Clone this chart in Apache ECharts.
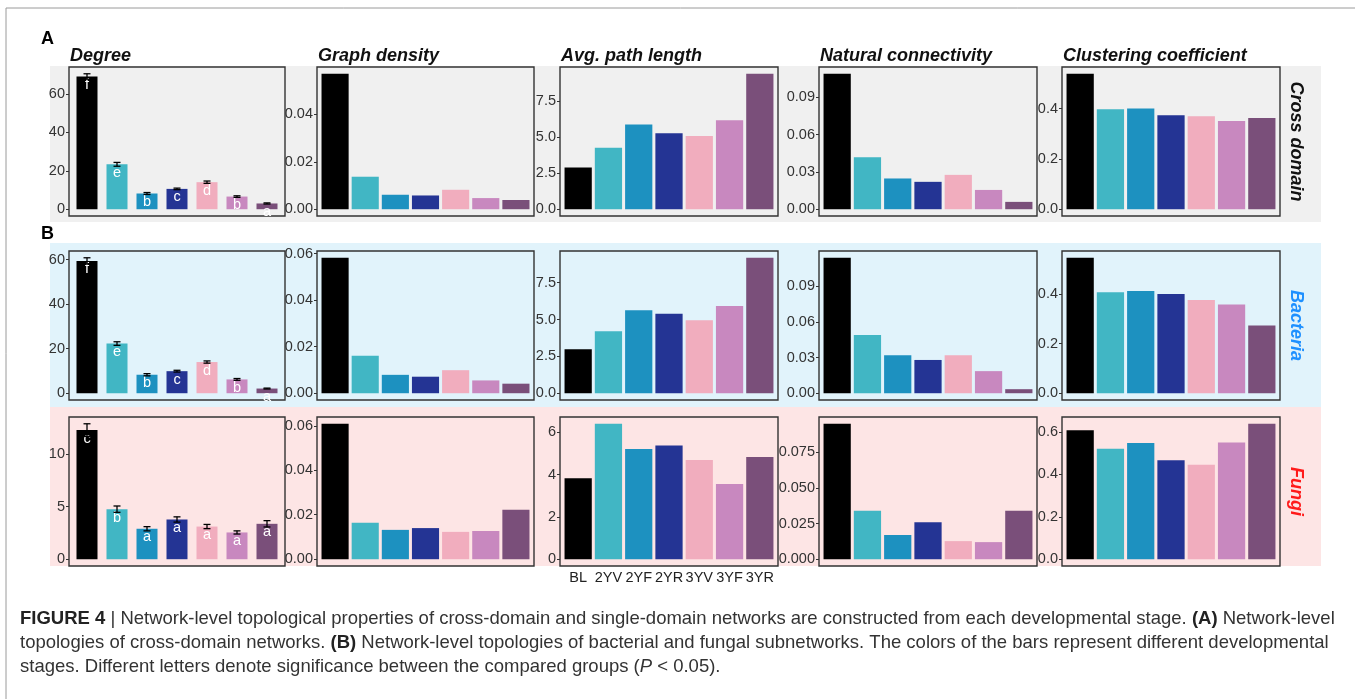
<!DOCTYPE html>
<html><head><meta charset="utf-8">
<script src="https://cdn.jsdelivr.net/npm/echarts@6/dist/echarts.min.js"></script>
<style>html,body{margin:0;padding:0;background:#fff}#c{width:1355px;height:699px}</style>
</head><body><div id="c"></div><script>
// ---------- data ----------
const stages = ['BL','2YV','2YF','2YR','3YV','3YF','3YR'];
const metrics = ['Degree','Graph density','Avg. path length','Natural connectivity','Clustering coefficient'];
const domains = ['Cross domain','Bacteria','Fungi'];

// Cross domain
const crossDegree = [69.2, 23.4, 8.2, 10.6, 14.1, 6.6, 3.0];
const crossDegreeErr = [1.4, 1.0, 0.5, 0.4, 0.6, 0.4, 0.3];
const crossDegreeLetters = ['f','e','b','c','d','b','a'];
const crossDensity = [0.0571, 0.0137, 0.0061, 0.0058, 0.0082, 0.0047, 0.0039];
const crossPath = [2.90, 4.26, 5.88, 5.28, 5.09, 6.18, 9.40];
const crossConn = [0.1088, 0.0418, 0.0247, 0.0220, 0.0276, 0.0155, 0.0059];
const crossClust = [0.538, 0.397, 0.400, 0.373, 0.369, 0.350, 0.362];

// Bacteria
const bactDegree = [59.4, 22.3, 8.3, 9.9, 14.0, 6.2, 2.1];
const bactDegreeErr = [1.4, 0.8, 0.5, 0.4, 0.5, 0.4, 0.2];
const bactDegreeLetters = ['f','e','b','c','d','b','a'];
const bactDensity = [0.0582, 0.0161, 0.0079, 0.0071, 0.0099, 0.0055, 0.0041];
const bactPath = [2.98, 4.20, 5.63, 5.40, 4.95, 5.92, 9.19];
const bactConn = [0.114, 0.049, 0.032, 0.028, 0.032, 0.0186, 0.0034];
const bactClust = [0.547, 0.408, 0.413, 0.401, 0.376, 0.358, 0.274];

// Fungi
const fungDegree = [12.25, 4.75, 2.89, 3.77, 3.10, 2.54, 3.36];
const fungDegreeErr = [0.6, 0.3, 0.2, 0.25, 0.2, 0.15, 0.3];
const fungDegreeLetters = ['c','b','a','a','a','a','a'];
const fungDensity = [0.0609, 0.0164, 0.0132, 0.0140, 0.0123, 0.0127, 0.0223];
const fungPath = [3.83, 6.41, 5.22, 5.38, 4.69, 3.56, 4.84];
const fungConn = [0.095, 0.034, 0.017, 0.026, 0.0127, 0.012, 0.034];
const fungClust = [0.607, 0.520, 0.547, 0.466, 0.445, 0.550, 0.638];

// tick values and labels
const crossTicks = [[0,20,40,60],[0,0.02,0.04],[0,2.5,5,7.5],[0,0.03,0.06,0.09],[0,0.2,0.4]];
const crossTickLabels = [['0','20','40','60'],['0.00','0.02','0.04'],['0.0','2.5','5.0','7.5'],['0.00','0.03','0.06','0.09'],['0.0','0.2','0.4']];
const bactTicks = [[0,20,40,60],[0,0.02,0.04,0.06],[0,2.5,5,7.5],[0,0.03,0.06,0.09,0.12],[0,0.2,0.4]];
const bactTickLabels = [['0','20','40','60'],['0.00','0.02','0.04','0.06'],['0.0','2.5','5.0','7.5'],['0.00','0.03','0.06','0.09','0.12'],['0.0','0.2','0.4']];
const fungTicks = [[0,5,10],[0,0.02,0.04,0.06],[0,2,4,6],[0,0.025,0.05,0.075],[0,0.2,0.4,0.6]];
const fungTickLabels = [['0','5','10'],['0.00','0.02','0.04','0.06'],['0','2','4','6'],['0.000','0.025','0.050','0.075'],['0.0','0.2','0.4','0.6']];

const captionLines = [
  '{b|FIGURE 4} | Network-level topological properties of cross-domain and single-domain networks are constructed from each developmental stage. {b|(A)} Network-level',
  'topologies of cross-domain networks. {b|(B)} Network-level topologies of bacterial and fungal subnetworks. The colors of the bars represent different developmental',
  'stages. Different letters denote significance between the compared groups ({i|P} < 0.05).'
];

// ---------- style / layout ----------
const stageColors = ['#000000','#41B6C4','#1D91C0','#243494','#F1ADBE','#C888BF','#7A4F7A'];
const colLeft = [69, 317, 560, 819, 1062];
const colWidth = [216, 217, 218, 218, 218];
const rowTop = [67, 251, 417];
const rowH = 149;
const stripBg = ['#F0F0F0','#E1F3FB','#FDE5E5'];
const stripTop = [66, 243, 407];
const stripBottom = [222, 407, 566];
const stripLabelColor = ['#111111','#1E90FF','#FF1A1A'];
const FONT = 'Liberation Sans, Arial, sans-serif';
const CAP = 18.5;

const rows = [
  {vals:[crossDegree,crossDensity,crossPath,crossConn,crossClust], err:crossDegreeErr, letters:crossDegreeLetters, ticks:crossTicks, tl:crossTickLabels},
  {vals:[bactDegree,bactDensity,bactPath,bactConn,bactClust], err:bactDegreeErr, letters:bactDegreeLetters, ticks:bactTicks, tl:bactTickLabels},
  {vals:[fungDegree,fungDensity,fungPath,fungConn,fungClust], err:fungDegreeErr, letters:fungDegreeLetters, ticks:fungTicks, tl:fungTickLabels}
];

const grid = [], xAxis = [], yAxis = [], series = [], graphic = [];

rows.forEach((row, r) => {
  graphic.push({type:'rect', z:-100, shape:{x:50, y:stripTop[r], width:1271, height:stripBottom[r]-stripTop[r]}, style:{fill:stripBg[r]}});
  graphic.push({type:'text', z:10, x:1296, y:rowTop[r]+rowH/2, rotation:-Math.PI/2,
    style:{text:domains[r], fill:stripLabelColor[r], font:'italic bold 18px '+FONT, textAlign:'center', textVerticalAlign:'middle'}});
  row.vals.forEach((vals, c) => {
    const g = grid.length;
    const isDeg = c === 0;
    const top = isDeg ? Math.max(...vals.map((v,i)=>v+row.err[i])) : Math.max(...vals);
    const ticks = row.ticks[c], tl = row.tl[c];
    grid.push({left:colLeft[c], top:rowTop[r], width:colWidth[c], height:rowH, show:true,
      borderColor:'#333', borderWidth:1.4, backgroundColor:'transparent', outerBoundsMode:'none', containLabel:false});
    const showX = (r === 2 && c === 2);
    xAxis.push({gridIndex:g, type:'value', min:0.4, max:7.6, splitLine:{show:false},
      axisLine:{show:false}, axisTick:{show:false},
      axisLabel: showX ? {show:true, customValues:[1,2,3,4,5,6,7], formatter:v=>stages[Math.round(v)-1],
        fontSize:14.5, color:'#222', margin:4, fontFamily:FONT} : {show:false}});
    yAxis.push({gridIndex:g, type:'value', min:-0.05*top, max:1.05*top, splitLine:{show:false},
      axisLine:{show:false},
      axisTick:{show:true, length:3, customValues:ticks, lineStyle:{color:'#333', width:1}},
      axisLabel:{show:true, customValues:ticks, margin:4, fontSize:14.5, color:'#333', fontFamily:FONT,
        formatter:v=>{ let k=0; ticks.forEach((t,i)=>{ if (Math.abs(t-v) < Math.abs(ticks[k]-v)) k=i; }); return tl[k]; }}});
    const bw = (isDeg ? 0.7 : 0.9) * colWidth[c] / 7.2;
    series.push({type:'bar', xAxisIndex:g, yAxisIndex:g, barWidth:bw, animation:false, silent:true,
      data: vals.map((v,i)=>({value:[i+1, v], itemStyle:{color:stageColors[i]}})),
      label: isDeg ? {show:true, position:'insideTop', distance:1, formatter:p=>row.letters[p.dataIndex],
        color:'#fff', fontSize:14.5, fontFamily:FONT} : {show:false},
      z:2});
    if (isDeg) {
      series.push({type:'custom', xAxisIndex:g, yAxisIndex:g, animation:false, silent:true, z:3,
        data: vals.map((v,i)=>[i+1, v-row.err[i], v+row.err[i]]),
        encode:{x:0, y:[1,2]},
        renderItem:(params, api)=>{
          const x = api.value(0), lo = api.value(1), hi = api.value(2);
          const p1 = api.coord([x, lo]), p2 = api.coord([x, hi]);
          const hw = 3.5, st = {stroke:'#000', lineWidth:1.3};
          return {type:'group', children:[
            {type:'line', shape:{x1:p1[0], y1:p1[1], x2:p2[0], y2:p2[1]}, style:st},
            {type:'line', shape:{x1:p1[0]-hw, y1:p1[1], x2:p1[0]+hw, y2:p1[1]}, style:st},
            {type:'line', shape:{x1:p2[0]-hw, y1:p2[1], x2:p2[0]+hw, y2:p2[1]}, style:st}
          ]};
        }});
    }
  });
});

metrics.forEach((m, c) => {
  graphic.push({type:'text', x:colLeft[c]+1, y:56, style:{text:m, fill:'#111', font:'italic bold 18px '+FONT, textAlign:'left', textVerticalAlign:'middle'}});
});
graphic.push({type:'text', x:41, y:39, style:{text:'A', fill:'#000', font:'bold 18px '+FONT, textAlign:'left', textVerticalAlign:'middle'}});
graphic.push({type:'text', x:41, y:234, style:{text:'B', fill:'#000', font:'bold 18px '+FONT, textAlign:'left', textVerticalAlign:'middle'}});
graphic.push({type:'line', shape:{x1:6, y1:8, x2:1355, y2:8}, style:{stroke:'#9a9a9a', lineWidth:1}});
graphic.push({type:'line', shape:{x1:6, y1:8, x2:6, y2:699}, style:{stroke:'#9a9a9a', lineWidth:1}});
const capY = [619, 643, 667];
captionLines.forEach((t, i) => {
  graphic.push({type:'text', x:20, y:capY[i], style:{text:t, fill:'#333', font:CAP+'px '+FONT,
    textAlign:'left', textVerticalAlign:'middle',
    rich:{b:{fontWeight:'bold', fontSize:CAP, fontFamily:FONT, fill:'#222'}, i:{fontStyle:'italic', fontSize:CAP, fontFamily:FONT, fill:'#333'}}}});
});

const chart = echarts.init(document.getElementById('c'), null, {renderer:'canvas'});
chart.setOption({animation:false, backgroundColor:'#fff', grid, xAxis, yAxis, series, graphic});
</script></body></html>
